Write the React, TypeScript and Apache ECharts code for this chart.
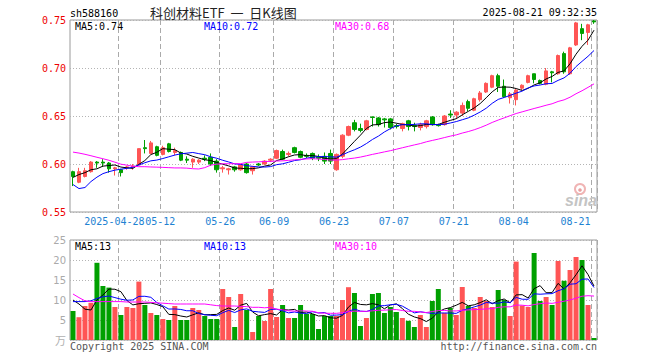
import React, { useEffect, useRef } from 'react';
import * as echarts from 'echarts';

const dates = [
  '2025-04-16','2025-04-17','2025-04-18','2025-04-21','2025-04-22','2025-04-23','2025-04-24','2025-04-25','2025-04-28','2025-04-29',
  '2025-04-30','2025-05-06','2025-05-07','2025-05-08','2025-05-09','2025-05-12','2025-05-13','2025-05-14','2025-05-15','2025-05-16',
  '2025-05-19','2025-05-20','2025-05-21','2025-05-22','2025-05-23','2025-05-26','2025-05-27','2025-05-28','2025-05-29','2025-05-30',
  '2025-06-03','2025-06-04','2025-06-05','2025-06-06','2025-06-09','2025-06-10','2025-06-11','2025-06-12','2025-06-13','2025-06-16',
  '2025-06-17','2025-06-18','2025-06-19','2025-06-20','2025-06-23','2025-06-24','2025-06-25','2025-06-26','2025-06-27','2025-06-30',
  '2025-07-01','2025-07-02','2025-07-03','2025-07-04','2025-07-07','2025-07-08','2025-07-09','2025-07-10','2025-07-11','2025-07-14',
  '2025-07-15','2025-07-16','2025-07-17','2025-07-18','2025-07-21','2025-07-22','2025-07-23','2025-07-24','2025-07-25','2025-07-28',
  '2025-07-29','2025-07-30','2025-07-31','2025-08-01','2025-08-04','2025-08-05','2025-08-06','2025-08-07','2025-08-08','2025-08-11',
  '2025-08-12','2025-08-13','2025-08-14','2025-08-15','2025-08-18','2025-08-19','2025-08-20','2025-08-21',
];

const opens = [
  0.592,0.581,0.587,0.592,0.602,0.602,0.601,0.595,0.594,0.596,
  0.597,0.599,0.617,0.611,0.618,0.610,0.621,0.612,0.612,0.605,
  0.602,0.602,0.606,0.607,0.603,0.595,0.594,0.597,0.594,0.600,
  0.593,0.600,0.600,0.604,0.606,0.613,0.610,0.617,0.613,0.609,
  0.611,0.607,0.608,0.611,0.594,0.608,0.630,0.643,0.637,0.636,
  0.649,0.648,0.647,0.647,0.640,0.637,0.645,0.640,0.638,0.639,
  0.649,0.641,0.641,0.652,0.651,0.653,0.665,0.656,0.667,0.675,
  0.680,0.692,0.681,0.669,0.667,0.679,0.685,0.694,0.687,0.683,
  0.696,0.694,0.715,0.694,0.724,0.741,0.737,0.749,
];
const closes = [
  0.587,0.592,0.593,0.602,0.601,0.601,0.595,0.596,0.591,0.597,
  0.598,0.616,0.616,0.622,0.609,0.617,0.613,0.614,0.604,0.604,
  0.605,0.604,0.605,0.600,0.594,0.596,0.595,0.594,0.599,0.591,
  0.597,0.599,0.603,0.605,0.614,0.605,0.611,0.612,0.607,0.608,
  0.606,0.606,0.603,0.603,0.610,0.630,0.639,0.636,0.635,0.645,
  0.6485,0.641,0.646,0.638,0.639,0.642,0.639,0.639,0.641,0.645,
  0.641,0.640,0.650,0.651,0.654,0.661,0.658,0.668,0.674,0.684,
  0.692,0.681,0.670,0.673,0.677,0.682,0.692,0.688,0.684,0.697,
  0.695,0.713,0.696,0.721,0.747,0.736,0.745,0.748,
];
const highs = [
  0.593,0.596,0.596,0.603,0.603,0.605,0.602,0.597,0.595,0.598,
  0.600,0.616,0.625,0.624,0.619,0.619,0.622,0.617,0.613,0.608,
  0.606,0.605,0.609,0.611,0.605,0.598,0.596,0.598,0.600,0.601,
  0.598,0.601,0.604,0.606,0.615,0.615,0.613,0.618,0.614,0.611,
  0.612,0.610,0.612,0.615,0.611,0.631,0.640,0.646,0.642,0.646,
  0.6495,0.649,0.648,0.648,0.642,0.643,0.646,0.643,0.643,0.646,
  0.650,0.642,0.651,0.656,0.655,0.664,0.667,0.669,0.676,0.685,
  0.693,0.694,0.688,0.675,0.678,0.683,0.693,0.694,0.688,0.700,
  0.697,0.714,0.717,0.722,0.748,0.746,0.746,0.750,
];
const lows = [
  0.577,0.580,0.586,0.591,0.596,0.597,0.591,0.588,0.587,0.594,
  0.594,0.599,0.611,0.611,0.608,0.609,0.612,0.609,0.603,0.601,
  0.596,0.600,0.603,0.598,0.591,0.591,0.589,0.592,0.593,0.590,
  0.589,0.598,0.599,0.602,0.605,0.604,0.608,0.611,0.606,0.606,
  0.604,0.603,0.600,0.600,0.593,0.606,0.629,0.634,0.633,0.635,
  0.639,0.639,0.638,0.636,0.637,0.634,0.635,0.634,0.635,0.637,
  0.640,0.639,0.640,0.648,0.647,0.650,0.655,0.655,0.665,0.674,
  0.679,0.675,0.669,0.663,0.661,0.677,0.684,0.684,0.683,0.682,
  0.685,0.693,0.694,0.693,0.723,0.729,0.724,0.746,
];
const volumes = [
  7.25,5.7,8.5,9.3,19.3,13.5,13.1,8.25,6.25,8.25,
  8.0,14.6,8.75,6.75,6.25,5.25,5.0,8.5,5.0,5.0,
  8.0,7.5,6.0,5.25,5.25,12.75,10.75,3.25,11.5,7.5,
  2.0,6.0,4.75,12.75,5.75,8.75,5.5,5.5,8.75,6.5,
  6.5,2.75,6.0,6.0,6.0,10.0,13.2,11.75,3.5,5.5,
  11.5,11.75,6.75,8.25,7.0,5.5,4.8,3.25,6.25,3.25,
  9.75,12.75,6.75,8.0,6.25,13.25,8.5,8.0,10.75,9.75,
  8.25,12.5,10.0,6.0,19.6,8.6,8.25,21.75,9.75,10.75,
  8.75,19.75,14.8,17.5,20.75,20.0,8.75,0.5,
];

const ma5Head = [0.586,0.589,0.591,0.594];
const ma10Head = [0.5786,0.5744,0.5755,0.5817,0.5863,0.590,0.592,0.5936,0.5946];
const ma30Head = [
  0.6124,0.6114,0.6101,0.6086,0.6070,0.6055,0.6039,0.6019,0.5998,0.5988,
  0.5977,0.5972,0.5972,0.5969,0.5967,0.5965,0.5962,0.5959,0.5959,0.5957,
  0.5951,0.5948,0.5962,0.5988,0.5998,0.6003,0.6003,0.6003,0.6003,
];
const vma5Head = [10,9.0,7.7,7.5];
const vma10Head = [9.6,9.6,9.6,9.8,10.4,10.8,11.0,10.6,10.2];
const vma30Head = [
  11.5,10.6,9.8,9.6,9.6,9.6,9.6,9.6,9.6,9.5,
  9.5,9.5,9.5,9.4,9.3,9.2,9.1,9.0,9.0,9.0,
  9.0,9.0,9.0,8.8,8.6,8.5,8.5,8.5,8.4,
];

const labelDates = ['2025-04-28','2025-05-12','2025-05-26','2025-06-09','2025-06-23','2025-07-07','2025-07-21','2025-08-04','2025-08-21'];
const priceTicks = { min: 0.55, max: 0.75, step: 0.05 };
const volTicks = { min: 0, max: 25, step: 5 };

const RED = '#ff5555';
const GREEN = '#00a000';
const BLUE_LABEL = '#1e82d2';
const MONO = '"DejaVu Sans Mono", "Liberation Mono", monospace';

function movingAvg(values: number[], n: number, head: number[]) {
  return values.map((_, i) => {
    if (i < n - 1) return head[i];
    let s = 0;
    for (let k = i - n + 1; k <= i; k++) s += values[k];
    return s / n;
  });
}

export default function App() {
  const ref = useRef<HTMLDivElement>(null);
  useEffect(() => {
    if (!ref.current) return;
    const chart = echarts.init(ref.current, undefined, { renderer: 'svg' });
    const ma5 = movingAvg(closes, 5, ma5Head);
    const ma10 = movingAvg(closes, 10, ma10Head);
    const ma30 = movingAvg(closes, 30, ma30Head);
    const vma5 = movingAvg(volumes, 5, vma5Head);
    const vma10 = movingAvg(volumes, 10, vma10Head);
    const vma30 = movingAvg(volumes, 30, vma30Head);
    const last = dates.length - 1;
    const isLabel = (i: number) => labelDates.indexOf(dates[i]) >= 0;
    const firstLabelIdx = dates.indexOf(labelDates[0]);
    const candle = dates.map((_, i) => [opens[i], closes[i], lows[i], highs[i]]);
    const volBars = volumes.map((v, i) => ({
      value: v,
      itemStyle: { color: closes[i] >= opens[i] ? RED : GREEN },
    }));
    const splitX = {
      show: true,
      interval: (i: number) => isLabel(i),
      lineStyle: { color: '#aaaaaa', type: [5, 3], width: 1 },
    };
    const dotted = { show: true, lineStyle: { color: '#b4b4b4', type: [1, 2], width: 1 } };
    const lineS = (name: string, data: number[], color: string, xi: number) => ({
      name, type: 'line', xAxisIndex: xi, yAxisIndex: xi, data, symbol: 'none', showSymbol: false,
      lineStyle: { color, width: 1 }, itemStyle: { color }, z: 5, silent: true,
    });
    const txt = (text: string, x: number, y: number, fill: string, align = 'left', font = `10px ${MONO}`) => ({
      type: 'text', x, y, silent: true, z: 10,
      style: { text, fill, font, align, verticalAlign: 'middle' },
    });
    const labelRich = {
      n: { padding: [0, 5, 0, 0], color: BLUE_LABEL, fontFamily: MONO, fontSize: 10 },
      f: { padding: [0, 13, 0, 0], color: BLUE_LABEL, fontFamily: MONO, fontSize: 10 },
      e: { padding: [0, 37, 0, 0], color: BLUE_LABEL, fontFamily: MONO, fontSize: 10 },
    };
    const option = {
      animation: false,
      backgroundColor: '#ffffff',
      grid: [
        { left: 70, top: 20, width: 527, height: 192, show: true, borderColor: '#9a9a9a', borderWidth: 1, backgroundColor: 'transparent' },
        { left: 70, top: 240, width: 527, height: 100, show: true, borderColor: '#9a9a9a', borderWidth: 1, backgroundColor: 'transparent' },
      ],
      xAxis: [
        {
          type: 'category', gridIndex: 0, data: dates, boundaryGap: true,
          axisLine: { show: false }, axisTick: { show: false },
          axisLabel: {
            interval: (i: number) => isLabel(i) && i !== firstLabelIdx,
            hideOverlap: false,
            margin: 4,
            formatter: (value: string, index: number) => {
              const t = value.slice(5);
              return index === last ? `{e|${t}}` : `{n|${t}}`;
            },
            rich: labelRich,
          },
          splitLine: splitX,
        },
        {
          type: 'category', gridIndex: 1, data: dates, boundaryGap: true,
          axisLine: { show: false }, axisTick: { show: false }, axisLabel: { show: false },
          splitLine: splitX,
        },
        {
          // carries only the first (full) date label, which sits right against the next one as in the original
          type: 'category', gridIndex: 0, data: dates, boundaryGap: true, position: 'bottom',
          axisLine: { show: false }, axisTick: { show: false }, splitLine: { show: false },
          axisLabel: {
            interval: (i: number) => i === firstLabelIdx,
            margin: 4,
            formatter: (value: string) => `{f|${value}}`,
            rich: labelRich,
          },
        },
      ],
      yAxis: [
        {
          type: 'value', gridIndex: 0, min: priceTicks.min, max: priceTicks.max, interval: priceTicks.step,
          axisLine: { show: false }, axisTick: { show: false },
          axisLabel: { color: '#ee0000', fontFamily: MONO, fontSize: 10, margin: 4, formatter: (v: number) => v.toFixed(2) },
          splitLine: dotted,
        },
        {
          type: 'value', gridIndex: 1, min: volTicks.min, max: volTicks.max, interval: volTicks.step,
          axisLine: { show: false }, axisTick: { show: false },
          axisLabel: { color: '#aaaaaa', fontFamily: '"DejaVu Sans", sans-serif', fontSize: 10, margin: 4, formatter: (v: number) => (v === 0 ? '' : String(v)) },
          splitLine: dotted,
        },
      ],
      series: [
        {
          name: 'K', type: 'candlestick', xAxisIndex: 0, yAxisIndex: 0, data: candle, barWidth: 4,
          itemStyle: { color: RED, color0: GREEN, borderColor: RED, borderColor0: GREEN, borderWidth: 1 },
          silent: true, z: 3,
        },
        lineS('MA5', ma5, '#000000', 0),
        lineS('MA10', ma10, '#0000ff', 0),
        lineS('MA30', ma30, '#ff00ff', 0),
        { name: 'VOL', type: 'bar', xAxisIndex: 1, yAxisIndex: 1, data: volBars, barWidth: 5, silent: true, z: 3 },
        lineS('VMA5', vma5, '#000000', 1),
        lineS('VMA10', vma10, '#0000ff', 1),
        lineS('VMA30', vma30, '#ff00ff', 1),
      ],
      graphic: [
        txt('sh588160', 70, 13, '#000000'),
        txt('科创材料ETF  一  日K线图', 150, 12, '#222222', 'left', '13px "Noto Sans CJK SC", sans-serif'),
        txt('2025-08-21 09:32:35', 597, 12, '#000000', 'right'),
        txt(`MA5:${ma5[last].toFixed(2)}`, 75, 26, '#000000'),
        txt(`MA10:${ma10[last].toFixed(2)}`, 204, 26, '#0000ff'),
        txt(`MA30:${ma30[last].toFixed(2)}`, 335, 26, '#ff00ff'),
        txt(`MA5:${Math.floor(vma5[last])}`, 75, 246, '#000000'),
        txt(`MA10:${Math.floor(vma10[last])}`, 204, 246, '#0000ff'),
        txt(`MA30:${Math.floor(vma30[last])}`, 335, 246, '#ff00ff'),
        txt('万', 66, 340, '#b0b0b0', 'right', '11px "Noto Sans CJK SC", sans-serif'),
        txt('Copyright 2025 SINA.COM', 70, 346, '#555555'),
        txt('http://finance.sina.com.cn', 597, 346, '#555555', 'right'),
        { type: 'circle', silent: true, z: 1, shape: { cx: 580, cy: 189, r: 5 }, style: { fill: 'none', stroke: '#f0b4b4', lineWidth: 2 } },
        { type: 'circle', silent: true, z: 1, shape: { cx: 580, cy: 190, r: 1.8 }, style: { fill: '#e8a0a0' } },
        txt('sina', 565, 200, '#c4c4c4', 'left', 'italic bold 16px "Liberation Sans", sans-serif'),
      ],
    };
    chart.setOption(option as any);
    return () => chart.dispose();
  }, []);
  return (
    <div
      ref={ref}
      style={{ position: 'fixed', left: 0, top: 0, width: 660, height: 360, background: '#fff' }}
    />
  );
}
